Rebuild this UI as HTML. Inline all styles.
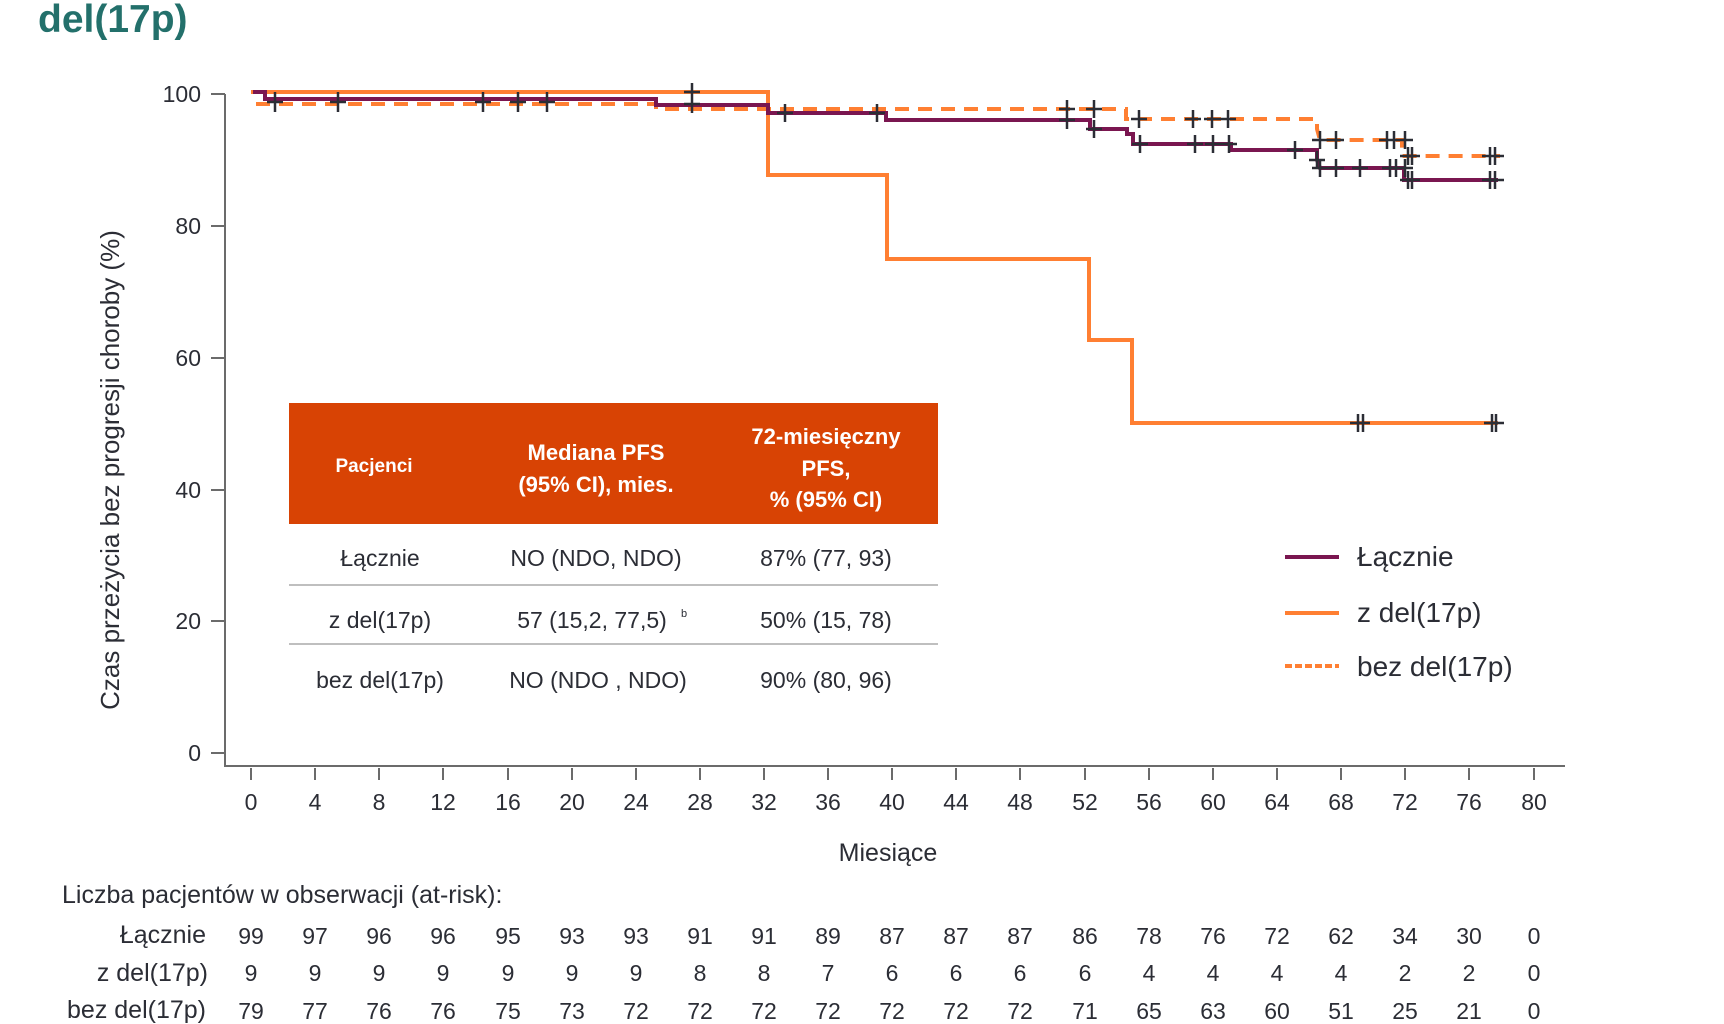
<!DOCTYPE html>
<html><head><meta charset="utf-8"><style>
html,body{margin:0;padding:0;background:#fff;}
svg{display:block;}
text{font-family:"Liberation Sans",sans-serif;fill:#2b2d35;}
</style></head><body>
<svg width="1724" height="1024" viewBox="0 0 1724 1024" xmlns="http://www.w3.org/2000/svg">
<text x="38" y="32" style="font-size:39px;font-weight:bold;fill:#23706b">del(17p)</text>

<!-- axes -->
<g stroke="#6b6b6b" stroke-width="2" fill="none">
<path d="M225 94 V766 H1565"/>
<path d="M211 94H225M211 226H225M211 358H225M211 490H225M211 621H225M211 753H225"/>
<path d="M251 768v12M315 768v12M379 768v12M443 768v12M508 768v12M572 768v12M636 768v12M700 768v12M764 768v12M828 768v12M892 768v12M956 768v12M1020 768v12M1085 768v12M1149 768v12M1213 768v12M1277 768v12M1341 768v12M1405 768v12M1469 768v12M1534 768v12"/>
</g>
<g style="font-size:23px" text-anchor="end">
<text x="201" y="102">100</text><text x="201" y="234">80</text><text x="201" y="366">60</text>
<text x="201" y="498">40</text><text x="201" y="629">20</text><text x="201" y="761">0</text>
</g>
<g style="font-size:23px" text-anchor="middle">
<text x="251" y="810">0</text><text x="315" y="810">4</text><text x="379" y="810">8</text><text x="443" y="810">12</text><text x="508" y="810">16</text><text x="572" y="810">20</text><text x="636" y="810">24</text><text x="700" y="810">28</text><text x="764" y="810">32</text><text x="828" y="810">36</text><text x="892" y="810">40</text><text x="956" y="810">44</text><text x="1020" y="810">48</text><text x="1085" y="810">52</text><text x="1149" y="810">56</text><text x="1213" y="810">60</text><text x="1277" y="810">64</text><text x="1341" y="810">68</text><text x="1405" y="810">72</text><text x="1469" y="810">76</text><text x="1534" y="810">80</text>
<text x="888" y="861" style="font-size:25px">Miesiące</text>
</g>
<text transform="translate(119,470) rotate(-90)" text-anchor="middle" style="font-size:26px">Czas przeżycia bez progresji choroby (%)</text>

<!-- curves -->
<g fill="none" stroke-width="4">
<path stroke="#ff7f32" d="M251 92 H768 V175 H887 V259 H1089 V340 H1132 V423 H1498"/>
<path stroke="#ff7f32" stroke-dasharray="14,9" d="M256 104 H656 V109 H1126 V119 H1317 V129 L1320 140 H1402 V156 H1500"/>
<path stroke="#7a1650" d="M253 92 H265 V99 H656 V105 H768 V113 H886 V120 H1090 V129 H1127 V134 H1133 V144 H1231 V150 H1317 V160 L1320 168 H1404 V180 H1498"/>
</g>
<!-- censors -->
<g stroke="#2b2d35" stroke-width="2.5" fill="none">
<path d="M275 92v20M267 102h16 M338 92v20M330 102h16 M483 92v20M475 102h16 M518 92v20M510 102h16 M547 92v20M539 102h16"/>
<path d="M692 83v18M684 92h16 M692 95v18M684 104h16 M785 104v18M777 113h16 M877 104v18M869 113h16"/>
<path d="M1067 100v18M1059 109h16 M1067 111v18M1059 120h16 M1094 100v18M1086 109h16 M1094 120v18M1086 129h16"/>
<path d="M1139 110v18M1131 119h16 M1193 110v18M1185 119h16 M1212 110v18M1204 119h16 M1228 110v18M1220 119h16"/>
<path d="M1140 135v18M1132 144h16 M1195 135v18M1187 144h16 M1213 135v18M1205 144h16 M1229 135v18M1221 144h16 M1295 141v18M1287 150h16"/>
<path d="M1320 131v18M1312 140h16 M1336 131v18M1328 140h16 M1387 131v18M1379 140h16 M1394 131v18M1386 140h16 M1405 131v18M1397 140h16"/>
<path d="M1317 151v18M1309 160h16 M1320 159v18M1312 168h16 M1336 159v18M1328 168h16 M1360 159v18M1352 168h16 M1390 159v18M1382 168h16 M1396 159v18M1388 168h16 M1405 159v18M1397 168h16"/>
<path d="M1408 147v18M1412 147v18M1400 156h20 M1490 147v18M1495 147v18M1482 156h22"/>
<path d="M1408 171v18M1412 171v18M1400 180h20 M1490 171v18M1495 171v18M1482 180h22"/>
<path d="M1358 414v18M1363 414v18M1350 423h20 M1492 414v18M1496 414v18M1484 423h20"/>
</g>

<!-- table -->
<rect x="289" y="403" width="649" height="121" fill="#d84304"/>
<g text-anchor="middle" style="font-size:22px;font-weight:bold">
<text x="374" y="472" style="fill:#fff;font-size:19px;font-weight:bold">Pacjenci</text>
<text x="596" y="460" style="fill:#fff">Mediana PFS</text>
<text x="596" y="492" style="fill:#fff">(95% CI), mies.</text>
<text x="826" y="444" style="fill:#fff">72-miesięczny</text>
<text x="826" y="476" style="fill:#fff">PFS,</text>
<text x="826" y="507" style="fill:#fff">% (95% CI)</text>
</g>
<path d="M289 585H938M289 644H938" stroke="#aaaaaa" stroke-width="1.5"/>
<g text-anchor="middle" style="font-size:23px">
<text x="380" y="566">Łącznie</text><text x="596" y="566">NO (NDO, NDO)</text><text x="826" y="566">87% (77,  93)</text>
<text x="380" y="628">z del(17p)</text><text x="592" y="628">57 (15,2,  77,5)</text><text x="826" y="628">50% (15,  78)</text>
<text x="380" y="688">bez del(17p)</text><text x="598" y="688">NO (NDO , NDO)</text><text x="826" y="688">90% (80,  96)</text>
</g>
<text x="681" y="617" style="font-size:11px">b</text>

<!-- legend -->
<path d="M1285 557H1339" stroke="#7a1650" stroke-width="4"/>
<path d="M1285 613H1339" stroke="#ff7f32" stroke-width="4"/>
<path d="M1285 666H1339" stroke="#ff7f32" stroke-width="4" stroke-dasharray="7,3"/>
<g style="font-size:28px">
<text x="1357" y="566">Łącznie</text><text x="1357" y="622">z del(17p)</text><text x="1357" y="676">bez del(17p)</text>
</g>

<!-- at-risk -->
<text x="62" y="903" style="font-size:25px">Liczba pacjentów w obserwacji (at-risk):</text>
<g style="font-size:25px" text-anchor="end">
<text x="206" y="943">Łącznie</text><text x="208" y="981">z del(17p)</text><text x="206" y="1018">bez del(17p)</text>
</g>
<g style="font-size:23px" text-anchor="middle">
<text y="944"><tspan x="251">99</tspan><tspan x="315">97</tspan><tspan x="379">96</tspan><tspan x="443">96</tspan><tspan x="508">95</tspan><tspan x="572">93</tspan><tspan x="636">93</tspan><tspan x="700">91</tspan><tspan x="764">91</tspan><tspan x="828">89</tspan><tspan x="892">87</tspan><tspan x="956">87</tspan><tspan x="1020">87</tspan><tspan x="1085">86</tspan><tspan x="1149">78</tspan><tspan x="1213">76</tspan><tspan x="1277">72</tspan><tspan x="1341">62</tspan><tspan x="1405">34</tspan><tspan x="1469">30</tspan><tspan x="1534">0</tspan></text>
<text y="981"><tspan x="251">9</tspan><tspan x="315">9</tspan><tspan x="379">9</tspan><tspan x="443">9</tspan><tspan x="508">9</tspan><tspan x="572">9</tspan><tspan x="636">9</tspan><tspan x="700">8</tspan><tspan x="764">8</tspan><tspan x="828">7</tspan><tspan x="892">6</tspan><tspan x="956">6</tspan><tspan x="1020">6</tspan><tspan x="1085">6</tspan><tspan x="1149">4</tspan><tspan x="1213">4</tspan><tspan x="1277">4</tspan><tspan x="1341">4</tspan><tspan x="1405">2</tspan><tspan x="1469">2</tspan><tspan x="1534">0</tspan></text>
<text y="1019"><tspan x="251">79</tspan><tspan x="315">77</tspan><tspan x="379">76</tspan><tspan x="443">76</tspan><tspan x="508">75</tspan><tspan x="572">73</tspan><tspan x="636">72</tspan><tspan x="700">72</tspan><tspan x="764">72</tspan><tspan x="828">72</tspan><tspan x="892">72</tspan><tspan x="956">72</tspan><tspan x="1020">72</tspan><tspan x="1085">71</tspan><tspan x="1149">65</tspan><tspan x="1213">63</tspan><tspan x="1277">60</tspan><tspan x="1341">51</tspan><tspan x="1405">25</tspan><tspan x="1469">21</tspan><tspan x="1534">0</tspan></text>
</g>
</svg>
</body></html>
